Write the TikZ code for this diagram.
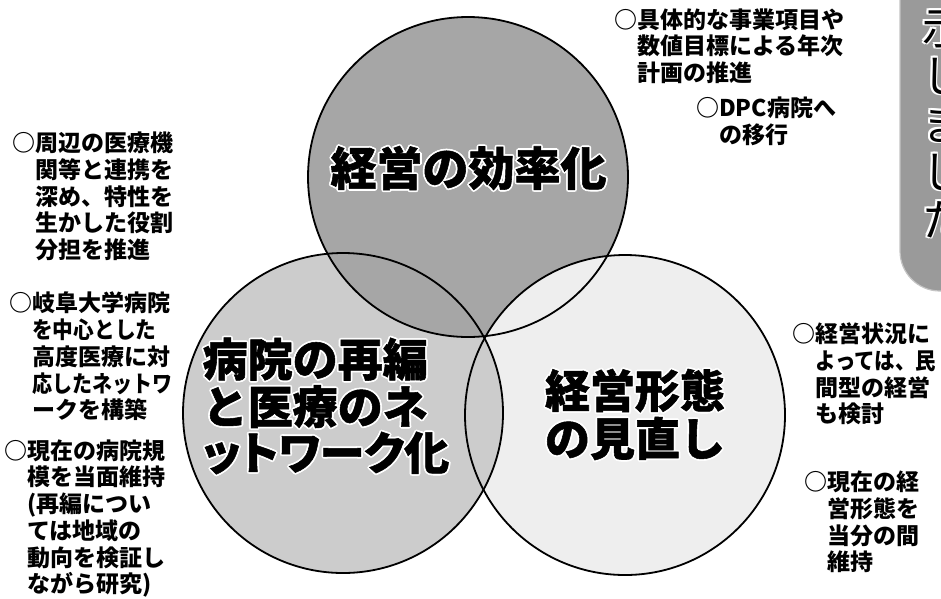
\documentclass[tikz,border=0pt]{standalone}
\usepackage{graphicx}
\usepackage{fontspec}
\newfontfamily\jp{Noto Sans CJK JP}
\newfontfamily\jph{Noto Sans CJK JP}[BoldFeatures={FakeBold=1.2}]
\definecolor{cT}{HTML}{A6A6A6}
\definecolor{cL}{HTML}{CCCCCC}
\definecolor{cR}{HTML}{EEEEEE}
\definecolor{boxgray}{HTML}{9A9A9A}
\definecolor{boxedge}{HTML}{C4C4C4}
\newlength\hw
\setlength\hw{1.8pt}
\newcommand\halo[1]{\leavevmode
\rlap{\hspace*{\hw}\textcolor{white}{#1}}%
\rlap{\hspace*{-\hw}\textcolor{white}{#1}}%
\rlap{\raisebox{\hw}{\textcolor{white}{#1}}}%
\rlap{\raisebox{-\hw}{\textcolor{white}{#1}}}%
\rlap{\hspace*{.7\hw}\raisebox{.7\hw}{\textcolor{white}{#1}}}%
\rlap{\hspace*{-.7\hw}\raisebox{.7\hw}{\textcolor{white}{#1}}}%
\rlap{\hspace*{.7\hw}\raisebox{-.7\hw}{\textcolor{white}{#1}}}%
\rlap{\hspace*{-.7\hw}\raisebox{-.7\hw}{\textcolor{white}{#1}}}%
#1}
\newcommand\ind{\hspace*{1em}}
\newcommand\sq[2]{\scalebox{#1}[1]{#2}}
\tikzset{
  ann/.style={font=\jp\bfseries\fontsize{23}{26.7}\selectfont, align=left, inner sep=0pt, anchor=west, text=black},
  big/.style={font=\jph\bfseries\fontsize{45}{46}\selectfont, align=left, inner sep=0pt, text=black},
  vtext/.style={font=\jp\fontsize{44}{48}\selectfont, align=center, inner sep=0pt, text=black},
  ring/.style={draw=black, line width=1.8pt},
}
\begin{document}
\begin{tikzpicture}[x=1pt,y=-1pt]
\useasboundingbox (0,0) rectangle (941,598);
\clip (0,0) rectangle (941,598);
\fill[white] (0,0) rectangle (941,598);
% circles fill
\fill[cR] (625,415) circle[radius=160pt];
\fill[cL] (343,413) circle[radius=160pt];
\fill[cT] (468,177) circle[radius=160pt];
\begin{scope}
  \clip (468,177) circle[radius=160pt];
  \fill[cR] (625,415) circle[radius=160pt];
\end{scope}
\begin{scope}
  \clip (625,415) circle[radius=160pt];
  \fill[cL] (343,413) circle[radius=160pt];
\end{scope}
\draw[ring] (625,415) circle[radius=160pt];
\draw[ring] (343,413) circle[radius=160pt];
\draw[ring] (468,177) circle[radius=160pt];
% gray box at right
\filldraw[fill=boxgray, draw=boxedge, line width=1.2pt, rounded corners=40pt]
  (900,-60) -- (900,291) -- (990,291) -- (990,-60) -- cycle;
\node[vtext] (vt) at (944,124) {\halo{示}\\\halo{し}\\\halo{ま}\\\halo{し}\\\halo{た}};
% main labels
\node[big, font=\jph\bfseries\fontsize{46}{46}\selectfont] (top) at (468.5,168) {\halo{経営の効率化}};
\node[big] (left) at (326,406) {\halo{病院の再編}\\\halo{と医療のネ}\\{\addfontfeature{RawFeature=+palt}\halo{ットワーク化}}};
\node[big] (right) at (635,414.5) {\halo{経営形態}\\\halo{の見直し}};
% annotations
\node[ann] (a1) at (12,196.5) {○周辺の医療機\\\ind 関等と連携を\\\ind 深め、特性を\\\ind 生かした役割\\\ind 分担を推進};
\node[ann] (a2) at (9,356.5) {○岐阜大学病院\\\ind \sq{0.9}{を中心とした}\\\ind 高度医療に対\\\ind \sq{0.87}{応したネットワ}\\\ind ークを構築};
\node[ann] (a3) at (4,518.5) {○現在の病院規\\\ind 模を当面維持\\\ind (再編につい\\\ind ては地域の\\\ind 動向を検証し\\\ind ながら研究)};
\node[ann] (a4) at (614,46) {○具体的な事業項目や\\\ind 数値目標による年次\\\ind 計画の推進};
\node[ann] (a5) at (696,121.5) {○DPC病院へ\\\ind の移行};
\node[ann] (a6) at (792,374) {○経営状況に\\\ind \sq{0.89}{よっては、民}\\\ind 間型の経営\\\ind も検討};
\node[ann] (a7) at (804,522) {○現在の経\\\ind 営形態を\\\ind 当分の間\\\ind 維持};
\end{tikzpicture}
\end{document}
